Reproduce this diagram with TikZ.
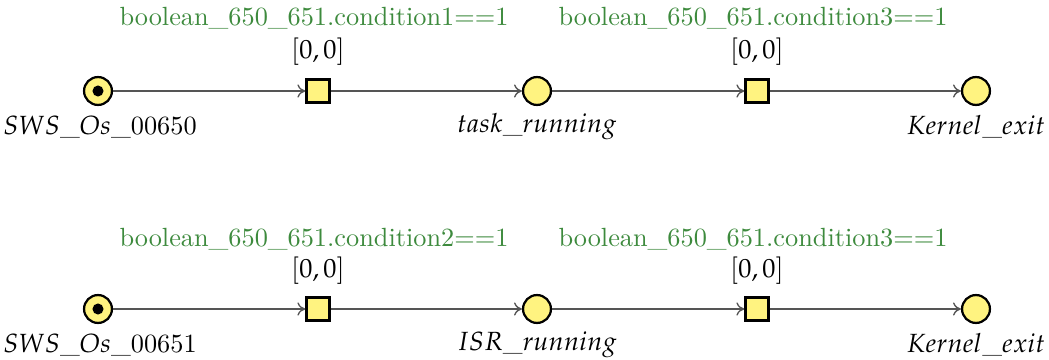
\documentclass[tikz,border=0pt]{standalone}
\usepackage{mathpazo}
\usetikzlibrary{arrows.meta}
\definecolor{pfill}{RGB}{255,243,128}
\definecolor{glab}{RGB}{61,138,61}
\definecolor{arc}{RGB}{85,85,85}
\begin{document}
\begin{tikzpicture}[x=0.38pt,y=-0.38pt,
  place/.style={circle,draw=black,line width=0.85pt,fill=pfill,minimum size=10.6pt,inner sep=0pt},
  trans/.style={rectangle,draw=black,line width=0.85pt,fill=pfill,minimum size=8.8pt,inner sep=0pt},
  tok/.style={circle,fill=black,minimum size=4.2pt,inner sep=0pt},
  plabel/.style={font=\normalsize,inner sep=0pt},
  glabel/.style={text=glab,inner sep=0pt},
  tlabel/.style={inner sep=0pt},
  arcline/.style={draw=arc,line width=0.5pt,-{To[length=3pt,width=5pt]}}]
\useasboundingbox (0,0) rectangle (1049,360);
% row 1
\node[place] (p1) at (98,91) {};
\node[tok] (k1) at (98,91) {};
\node[trans] (t1) at (318,91) {};
\node[place] (p2) at (537,91) {};
\node[trans] (t2) at (757,91) {};
\node[place] (p3) at (976,91) {};
\node[plabel] (l1) at (100,127) {$SWS\_Os\_$00650};
\node[plabel] (l2) at (537,127) {$task\_running$};
\node[plabel] (l3) at (976,127) {$Kernel\_exit$};
\node[glabel] (g1) at (314,18) {boolean\_650\_651.condition1==1};
\node[glabel] (g2) at (753,18) {boolean\_650\_651.condition3==1};
\node[tlabel] (i1) at (318,52) {$[0,0]$};
\node[tlabel] (i2) at (757,52) {$[0,0]$};
\draw[arcline] (p1) -- (t1);
\draw[arcline] (t1) -- (p2);
\draw[arcline] (p2) -- (t2);
\draw[arcline] (t2) -- (p3);
% row 2
\node[place] (q1) at (98,309) {};
\node[tok] (k2) at (98,309) {};
\node[trans] (s1) at (318,309) {};
\node[place] (q2) at (537,309) {};
\node[trans] (s2) at (757,309) {};
\node[place] (q3) at (976,309) {};
\node[plabel] (m1) at (100,345) {$SWS\_Os\_$00651};
\node[plabel] (m2) at (537,345) {$ISR\_running$};
\node[plabel] (m3) at (976,345) {$Kernel\_exit$};
\node[glabel] (h1) at (314,239) {boolean\_650\_651.condition2==1};
\node[glabel] (h2) at (753,239) {boolean\_650\_651.condition3==1};
\node[tlabel] (j1) at (318,271) {$[0,0]$};
\node[tlabel] (j2) at (757,271) {$[0,0]$};
\draw[arcline] (q1) -- (s1);
\draw[arcline] (s1) -- (q2);
\draw[arcline] (q2) -- (s2);
\draw[arcline] (s2) -- (q3);
\end{tikzpicture}
\end{document}
